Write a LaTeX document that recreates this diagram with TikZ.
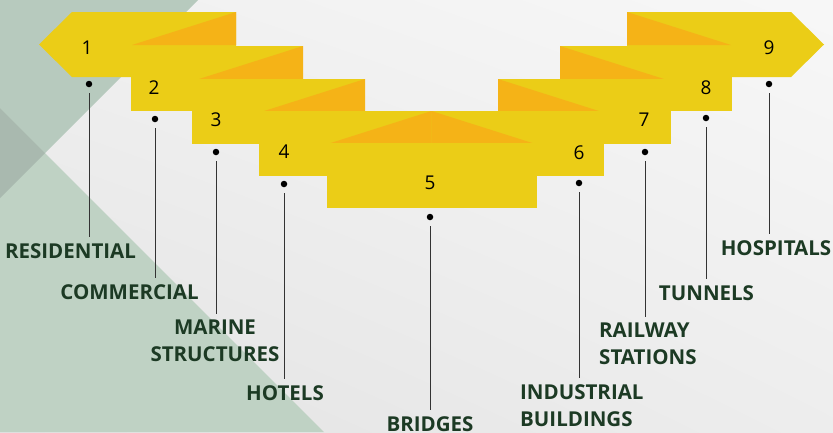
\documentclass[tikz,border=0pt]{standalone}
\usepackage{fontspec}
\setmainfont{Open Sans}
\usepackage{tikz}
\usetikzlibrary{shadings}
\definecolor{barcol}{HTML}{EBCD17}
\definecolor{foldcol}{HTML}{F5B317}
\definecolor{labcol}{HTML}{1C3A24}
\definecolor{leafa}{HTML}{B7CABE}
\definecolor{leafb}{HTML}{BFD2C4}
\definecolor{leafab}{HTML}{A9B9AF}

\begin{document}
\begin{tikzpicture}[x=1pt,y=-1pt,
% one unit is one pixel of the layout, y going down
  bar/.style={fill=barcol,draw=none},
  fold/.style={fill=foldcol,draw=none},
  num/.style={font=\fontsize{19}{19}\selectfont,inner sep=0pt},
  dot/.style={circle,fill=black,inner sep=0pt,minimum size=6.5pt},
  lbl/.style={text=labcol,font=\fontsize{20.5}{27}\selectfont\bfseries,inner sep=0pt,anchor=north},
  lead/.style={draw=black!80,line width=0.9pt,shorten <=6pt,shorten >=6pt}]

\useasboundingbox (0,0) rectangle (833,432);
\shade[upper left=black!6,upper right=black!3,lower left=black!11,lower right=black!7] (0,0) rectangle (833,432);
\fill[leafa] (0,0) -- (198,0) -- (0,198) -- cycle;
\fill[leafb] (0,108) -- (324,432) -- (0,432) -- cycle;
\fill[leafab] (0,108) -- (45,153) -- (0,198) -- cycle;

% left steps, and the same steps mirrored to the right
\foreach \s/\sh in {1/0,-1/863} {
  \begin{scope}[xshift=\sh,xscale=\s]
    \fill[bar] (39,44.5) -- (72,12) -- (236,12) -- (236,77) -- (72,77) -- cycle;
    \fill[fold] (132,45) -- (236,45) -- (236,12) -- cycle;
    \foreach \l/\r/\t in {131/303/46,192/365/79,259/431.5/111} {
      \fill[bar] (\l,\t) rectangle (\r,\t+65);
      \fill[fold] (\r-104,\t+33) -- (\r,\t+33) -- (\r,\t) -- cycle;
    }
  \end{scope}
}
\fill[bar] (327,143) rectangle (537,208);

\foreach \i/\nx/\ny/\dx/\dy in {1/87/48/89/84,2/154/88/155/119,3/216/120/216/152,
    4/284/152/284/184,5/430/183/430/217,6/579/153/579/183,7/644/120/645/152,
    8/706/88/706/118,9/769/48/769/84} {
  \node[num] (n\i) at (\nx,\ny) {\i};
  \node[dot] (d\i) at (\dx,\dy) {};
}

\node[lbl] (l1) at (70.5,243) {RESIDENTIAL};
\node[lbl] (l2) at (129.5,284) {COMMERCIAL};
\node[lbl,align=center] (l3) at (215,320) {MARINE\\STRUCTURES};
\node[lbl] (l4) at (285,385) {HOTELS};
\node[lbl] (l5) at (430,416) {BRIDGES};
\node[lbl,align=left,anchor=north west] (l6) at (520,384) {INDUSTRIAL\\BUILDINGS};
\node[lbl,align=left,anchor=north west] (l7) at (599,323) {RAILWAY\\STATIONS};
\node[lbl] (l8) at (706.5,285) {TUNNELS};
\node[lbl] (l9) at (776,240) {HOSPITALS};

\foreach \i in {1,...,9} {
  \draw[lead] (d\i) -- (d\i |- l\i.north);
}
\end{tikzpicture}
\end{document}
